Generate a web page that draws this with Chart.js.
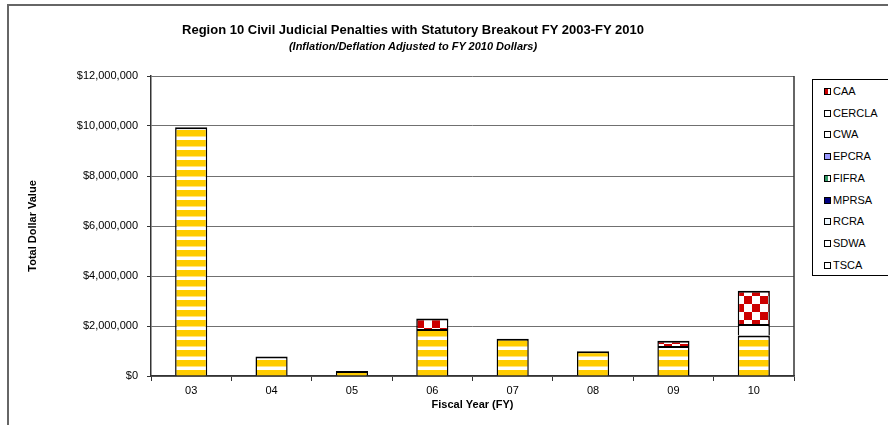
<!DOCTYPE html>
<html>
<head>
<meta charset="utf-8">
<script src="https://cdn.jsdelivr.net/npm/chart.js@4.4.1/dist/chart.umd.min.js"></script>
<style>
  html, body { margin: 0; padding: 0; background: #fff; }
  body { width: 888px; height: 425px; position: relative; overflow: hidden; font-family: "Liberation Sans", Arial, sans-serif; }
  #frame { position: absolute; left: 7px; top: 4px; width: 1000px; height: 1000px; border-left: 2px solid #666; border-top: 2px solid #666; }
  #wrap { position: absolute; left: 0; top: 0; width: 888px; height: 425px; }
  .title { position: absolute; left: 0; width: 826px; text-align: center; color: #000; font-weight: bold; white-space: nowrap; }
  #t1 { top: 22px; font-size: 13px; }
  #t2 { top: 40px; font-size: 11px; font-style: italic; }
  #legend { position: absolute; left: 812px; top: 79px; width: 120px; height: 195px; border: 1px solid #000; background: #fff; }
  .li { position: absolute; left: 11px; font-size: 11px; line-height: 13px; color: #000; white-space: nowrap; }
  .sw { display: inline-block; width: 5px; height: 5px; border: 1px solid #000; margin-right: 2px; vertical-align: 0px; }
</style>
</head>
<body>
<div id="frame"></div>
<div id="wrap"><canvas id="c" width="888" height="425"></canvas></div>
<div class="title" id="t1">Region 10 Civil Judicial Penalties with Statutory Breakout FY 2003-FY 2010</div>
<div class="title" id="t2">(Inflation/Deflation Adjusted to FY 2010 Dollars)</div>
<div id="legend"></div>
<script>
// ---- data ----
const categories = ['03', '04', '05', '06', '07', '08', '09', '10'];
const seriesNames = ['CAA', 'CERCLA', 'CWA', 'EPCRA', 'FIFRA', 'MPRSA', 'RCRA', 'SDWA', 'TSCA'];
const CAA    = [0, 0, 0, 420000, 0, 0, 210000, 1330000];
const CERCLA = [0, 0, 0, 0, 0, 0, 0, 460000];
const CWA    = [9950000, 780000, 200000, 1880000, 1490000, 990000, 1200000, 1620000];
const EPCRA  = [0, 0, 0, 0, 0, 0, 0, 0];
const FIFRA  = [0, 0, 0, 0, 0, 0, 0, 0];
const MPRSA  = [0, 0, 0, 0, 0, 0, 0, 0];
const RCRA   = [0, 0, 0, 0, 0, 0, 0, 0];
const SDWA   = [0, 0, 0, 0, 0, 0, 0, 0];
const TSCA   = [0, 0, 0, 0, 0, 0, 0, 0];
const yMin = 0, yMax = 12000000, yStep = 2000000;

// ---- patterns ----
function stripePattern() {
  const c = document.createElement('canvas'); c.width = 8; c.height = 10;
  const g = c.getContext('2d');
  g.fillStyle = '#ffffff'; g.fillRect(0, 0, 8, 10);
  g.fillStyle = '#ffcc00'; g.fillRect(0, 0, 8, 6.5);
  return g.createPattern(c, 'repeat');
}
function checkerPattern() {
  const c = document.createElement('canvas'); c.width = 16; c.height = 16;
  const g = c.getContext('2d');
  g.fillStyle = '#ffffff'; g.fillRect(0, 0, 16, 16);
  g.fillStyle = '#cc0000'; g.fillRect(0, 0, 8, 8); g.fillRect(8, 8, 8, 8);
  return g.createPattern(c, 'repeat');
}

const dataMap = { CAA, CERCLA, CWA, EPCRA, FIFRA, MPRSA, RCRA, SDWA, TSCA };
const fills = {
  CAA: checkerPattern(), CERCLA: '#ffffff', CWA: stripePattern(), EPCRA: '#9999ff',
  FIFRA: '#339966', MPRSA: '#000080', RCRA: '#ccffff', SDWA: '#ffffff', TSCA: '#ffffff'
};
const swatchCss = {
  CAA: 'linear-gradient(90deg,#cc0000 0 50%,#fff 50% 100%)', CERCLA: '#fff', CWA: '#fff',
  EPCRA: '#9999ff', FIFRA: 'linear-gradient(90deg,#339966 0 50%,#fff 50% 100%)', MPRSA: '#000080',
  RCRA: '#eef8ff', SDWA: '#fff', TSCA: '#fff'
};

// stacking order bottom -> top
const stackOrder = ['CWA', 'CERCLA', 'CAA', 'EPCRA', 'FIFRA', 'MPRSA', 'RCRA', 'SDWA', 'TSCA'];
const datasets = stackOrder.map(name => ({
  label: name,
  data: dataMap[name],
  backgroundColor: fills[name],
  borderColor: '#000',
  borderWidth: { top: 2, left: 1.5, right: 1.5, bottom: 0 },
  borderSkipped: false,
  barPercentage: 0.40,
  categoryPercentage: 1.0,
  stack: 's'
}));

// legend (HTML)
const lg = document.getElementById('legend');
seriesNames.forEach((n, i) => {
  const d = document.createElement('div');
  d.className = 'li';
  d.style.top = (5 + i * 21.7) + 'px';
  d.innerHTML = '<span class="sw" style="background:' + swatchCss[n] + '"></span>' + n;
  lg.appendChild(d);
});

const rightLine = {
  id: 'rightLine',
  afterDraw(chart) {
    const a = chart.chartArea, ctx = chart.ctx;
    ctx.save(); ctx.strokeStyle = '#333'; ctx.lineWidth = 1.5;
    ctx.beginPath(); ctx.moveTo(a.right, a.top); ctx.lineTo(a.right, a.bottom); ctx.stroke();
    ctx.restore();
  }
};

const FONT = '"Liberation Sans", Arial, sans-serif';
new Chart(document.getElementById('c'), {
  type: 'bar',
  data: { labels: categories, datasets },
  plugins: [rightLine],
  options: {
    responsive: false,
    animation: false,
    layout: { padding: { left: 26, right: 94, top: 76, bottom: 10 } },
    plugins: { legend: { display: false }, title: { display: false }, tooltip: { enabled: false } },
    scales: {
      x: {
        stacked: true,
        afterFit(s) { s.height = 39; },
        grid: { display: true, drawOnChartArea: false, offset: true, tickLength: 5, color: '#333', tickColor: '#333' },
        border: { display: true, color: '#333', width: 1.5 },
        ticks: { color: '#000', font: { family: FONT, size: 11 }, padding: 3, maxRotation: 0 },
        title: { display: true, text: 'Fiscal Year (FY)', color: '#000', font: { family: FONT, size: 11, weight: 'bold' }, padding: { top: 0, bottom: 3 } }
      },
      y: {
        stacked: true,
        min: yMin, max: yMax,
        afterFit(s) { s.width = 125; },
        grid: { color: '#707070', lineWidth: 1, tickLength: 4, tickColor: '#333' },
        border: { display: true, color: '#333', width: 1.5 },
        ticks: {
          stepSize: yStep, color: '#000', font: { family: FONT, size: 11 }, padding: 9,
          callback: v => '$' + Number(v).toLocaleString('en-US')
        },
        title: { display: true, text: 'Total Dollar Value', color: '#000', font: { family: FONT, size: 11, weight: 'bold' }, padding: 0 }
      }
    }
  }
});
</script>
</body>
</html>
